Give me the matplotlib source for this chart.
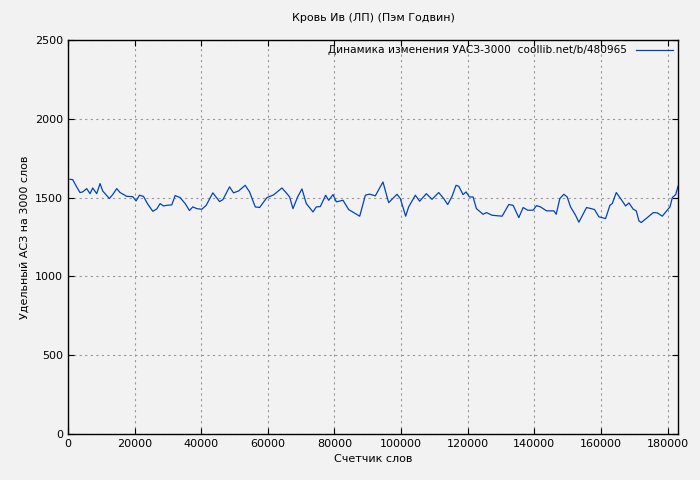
import matplotlib
matplotlib.use('Agg')
import matplotlib.pyplot as plt

words = [601, 1404, 2606, 3608, 4410, 5612, 6614, 7416, 8618, 9620, 10422, 12426, 13428, 14630, 15632,
         17636, 19440, 20442, 21444, 22646, 23848, 25452, 26654, 27656, 28658, 29660, 31163, 32165, 33668,
         35171, 36474, 37476, 38678, 40181, 41484, 43488, 45492, 46494, 48498, 49700, 51203, 53207, 54510,
         56213, 57516, 59720, 61724, 64229, 65732, 66534, 67536, 68938, 70241, 71544, 73548, 74550, 75752,
         77355, 78257, 79560, 80562, 82566, 84269, 87576, 89279, 90281,
         90751, 92254, 94559, 96262, 98767, 99769, 101372, 102274, 104278, 105581, 107585, 109288, 111292,
         112795, 113997, 115300, 116502, 117304, 118607, 119508, 120510, 121613, 122615, 124619, 125621,
         127324, 130330, 132334, 133637, 135340, 136643, 138045, 139649, 140651, 141853, 143657, 145861,
         146562, 147665, 148867, 149869, 150871, 152374, 153376, 155681, 157083, 158085, 159388, 161392,
         162695, 163396, 164600, 165901, 167404, 168406, 169709, 170610, 171412, 172113, 173917, 175721,
         176923, 178426, 179728, 180730, 181432, 182434, 183135]
uasz = [1616, 1614, 1568, 1532, 1536, 1557, 1525, 1561, 1525, 1589, 1542, 1494, 1519, 1557, 1532,
        1508, 1506, 1479, 1515, 1508, 1462, 1413, 1428, 1462, 1447, 1451, 1454, 1513, 1500,
        1462, 1418, 1441, 1430, 1426, 1451, 1530, 1475, 1487, 1568, 1530, 1542, 1578, 1536,
        1441, 1437, 1500, 1517, 1561, 1525, 1504, 1430, 1504, 1555, 1462, 1409, 1441, 1443,
        1515, 1483, 1519, 1473, 1483, 1424, 1382, 1515, 1521,
        1521, 1511, 1599, 1468, 1521, 1494, 1382, 1441, 1515, 1477, 1525, 1489, 1532,
        1494, 1456, 1508, 1578, 1572, 1519, 1536, 1504, 1504, 1430, 1394, 1405,
        1388, 1382, 1456, 1451, 1373, 1437, 1420, 1420, 1449, 1441, 1416, 1416,
        1394, 1494, 1521, 1504, 1441, 1388, 1344, 1437, 1430, 1424, 1378, 1367,
        1451, 1462, 1532, 1494, 1447, 1466, 1426, 1416, 1352, 1342, 1373, 1405,
        1403, 1382, 1416, 1441, 1500, 1519, 1572]

bg = '#f2f2f2'
plt.rcParams['font.family'] = 'DejaVu Sans'
plt.rcParams['font.size'] = 8

fig = plt.figure(figsize=(7, 4.8), dpi=100, facecolor=bg)
ax = fig.add_axes([68/700, 46/480, 610/700, 394/480], facecolor=bg)
ax.plot(words, uasz, color='#0044bb', lw=0.9,
        label='Динамика изменения УАСЗ-3000  coollib.net/b/480965')
ax.set_xlim(0, 183135)
ax.set_ylim(0, 2500)
ax.set_xticks(range(0, 180001, 20000))
ax.set_yticks(range(0, 2501, 500))
ax.grid(True, color='#999999', linestyle=(0, (2, 3)), lw=0.8)
ax.tick_params(direction='in', length=4, top=True, right=True)
for s in ax.spines.values():
    s.set_linewidth(1.0)
ax.set_title('Кровь Ив (ЛП) (Пэм Годвин)', fontsize=8, pad=14)
ax.set_xlabel('Счетчик слов')
ax.set_ylabel('Удельный АСЗ на 3000 слов')
leg = ax.legend(loc='upper right', frameon=False, markerfirst=False, handlelength=3.5,
                borderaxespad=0.1, fontsize=7.6)
fig.savefig('out.png', facecolor=bg)
